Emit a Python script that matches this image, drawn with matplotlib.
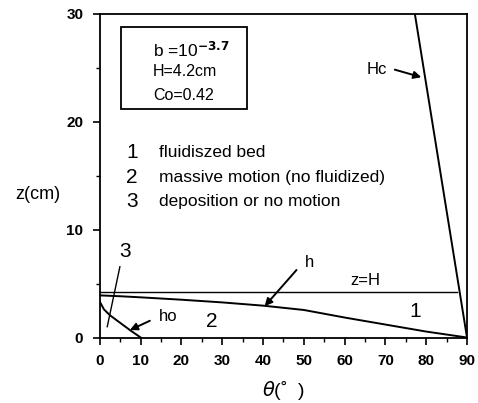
import matplotlib
matplotlib.use("Agg")
import matplotlib.pyplot as plt
from matplotlib.ticker import MultipleLocator

plt.rcParams['font.family'] = ['Liberation Sans', 'DejaVu Sans']
plt.rcParams['mathtext.default'] = 'regular'

# boundary curves (theta in degrees, z in cm)
theta_h = [0, 5, 10, 20, 30, 40, 50, 60, 70, 80, 90]
z_h = [3.9, 3.82, 3.72, 3.5, 3.25, 2.95, 2.55, 1.85, 1.2, 0.55, 0.0]

theta_ho = [0, 1, 2.5, 5, 7.5, 10]
z_ho = [3.3, 2.6, 2.05, 1.35, 0.65, 0.0]

theta_hc = [77.2, 90]
z_hc = [30, 0]

H = 4.2
theta_H = [0, 87.5]

region_labels = ["1", "2", "3"]
region_names = ["fluidiszed bed", "massive motion (no fluidized)",
                "deposition or no motion"]

fig = plt.figure(figsize=(4.78, 4.03), dpi=100)
ax = fig.add_axes([0.209, 0.1625, 0.768, 0.804])

ax.plot(theta_h, z_h, color='black', lw=1.4)
ax.plot(theta_ho, z_ho, color='black', lw=1.4)
ax.plot(theta_hc, z_hc, color='black', lw=1.4)
ax.plot(theta_H, [H, H], color='black', lw=1.0)

ax.set_xlim(0, 90)
ax.set_ylim(0, 30)
ax.xaxis.set_major_locator(MultipleLocator(10))
ax.xaxis.set_minor_locator(MultipleLocator(5))
ax.yaxis.set_major_locator(MultipleLocator(10))
ax.yaxis.set_minor_locator(MultipleLocator(5))
ax.tick_params(which='major', direction='out', length=5, width=1.2, pad=7,
               labelsize=11)
ax.tick_params(which='minor', direction='out', length=3, width=1.0)
for lab in ax.get_xticklabels() + ax.get_yticklabels():
    lab.set_fontweight('bold')
for sp in ax.spines.values():
    sp.set_linewidth(1.3)

ax.set_xlabel(r"$\mathit{\theta}$(˚  )", fontsize=14, labelpad=8)
ax.set_ylabel("z(cm)", fontsize=13, rotation=0, va='center', ha='center')
ax.yaxis.set_label_coords(-0.168, 0.44)

# parameter box
ax.text(13.0, 26.6, r"b =10$^{\mathbf{-3.7}}$", fontsize=12.5, va='center')
ax.text(13.0, 24.6, "H=4.2cm", fontsize=11.5, va='center')
ax.text(13.0, 22.45, "Co=0.42", fontsize=11.5, va='center')
ax.add_patch(plt.Rectangle((5.05, 21.2), 30.9, 7.55, fill=False,
                           edgecolor='black', lw=1.3))

# region legend
for i, (num, name) in enumerate(zip(region_labels, region_names)):
    y = 17.1 - i * 2.25
    ax.text(7.8, y, num, fontsize=15, va='center', ha='center')
    ax.text(14.5, y, name, fontsize=12.5, va='center')

# region numbers and curve labels
ax.text(6.1, 7.95, "3", fontsize=15, ha='center', va='center')
ax.plot([4.9, 1.8], [6.55, 1.0], color='black', lw=1.0)
ax.text(27.4, 1.5, "2", fontsize=15, ha='center', va='center')
ax.text(77.2, 2.4, "1", fontsize=15, ha='center', va='center')
ax.text(65.0, 5.3, "z=H", fontsize=12, ha='center', va='center')
ax.text(16.7, 1.9, "ho", fontsize=12, ha='center', va='center')
ax.text(51.5, 6.9, "h", fontsize=12, ha='center', va='center')
ax.text(67.8, 24.8, "Hc", fontsize=12, ha='center', va='center')

arrow = dict(arrowstyle='-|>', color='black', lw=1.4, mutation_scale=11,
             shrinkA=0, shrinkB=0)
ax.annotate("", xy=(7.35, 0.69), xytext=(12.25, 1.55), arrowprops=arrow)
ax.annotate("", xy=(40.4, 2.9), xytext=(48.2, 6.25), arrowprops=arrow)
ax.annotate("", xy=(78.8, 24.1), xytext=(72.3, 24.8), arrowprops=arrow)

fig.savefig("out.png", dpi=100)
